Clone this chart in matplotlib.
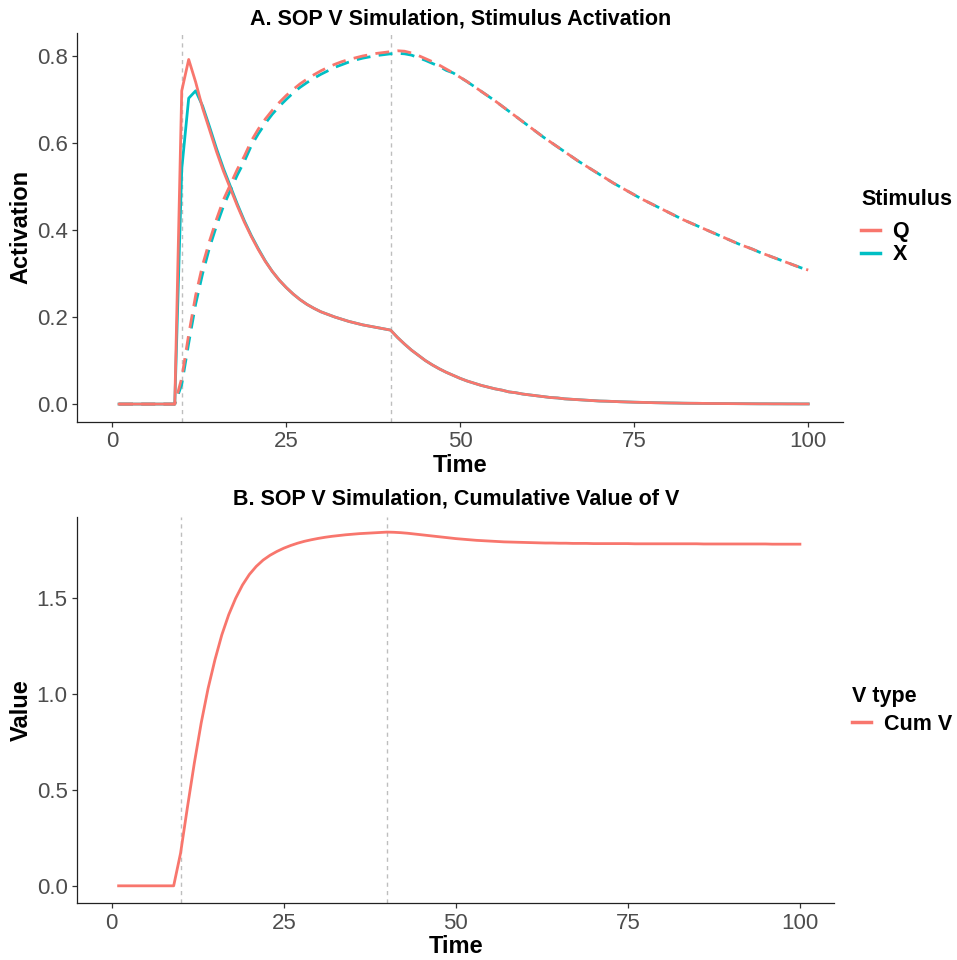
import matplotlib
matplotlib.use("Agg")
import matplotlib.pyplot as plt
from matplotlib.lines import Line2D

plt.rcParams["font.family"] = ["Liberation Sans", "DejaVu Sans"]

time = list(range(1, 101))

# A1 (solid) and A2 (dashed) activation per stimulus
q_a1 = [0] * 9 + [
    0.72, 0.792, 0.74, 0.68, 0.63, 0.58, 0.535, 0.495, 0.455, 0.418,
    0.385, 0.355, 0.328, 0.305, 0.285, 0.268, 0.253, 0.240, 0.229, 0.220,
    0.212, 0.206, 0.200, 0.195, 0.190, 0.186, 0.182, 0.179, 0.176, 0.173,
    0.170,
    0.153, 0.138, 0.124, 0.112, 0.100, 0.090, 0.081, 0.073, 0.066, 0.059,
    0.053, 0.048, 0.043, 0.039, 0.035, 0.032, 0.028, 0.026, 0.023, 0.021,
    0.019, 0.017, 0.015, 0.014, 0.012, 0.011, 0.010, 0.009, 0.008, 0.007,
    0.0066, 0.006, 0.0053, 0.0048, 0.0043, 0.0039, 0.0035, 0.0031, 0.0028, 0.0025,
    0.0023, 0.002, 0.0018, 0.0017, 0.0015, 0.0013, 0.0012, 0.0011, 0.001, 0.0009,
    0.0008, 0.0007, 0.0006, 0.0006, 0.0005, 0.0005, 0.0004, 0.0004, 0.0003, 0.0003,
]
x_a1 = [0] * 9 + [
    0.54, 0.703, 0.72, 0.685, 0.637, 0.587, 0.541, 0.50, 0.459, 0.421,
    0.387, 0.357, 0.329, 0.305, 0.285, 0.268, 0.253, 0.240, 0.229, 0.220,
    0.212, 0.206, 0.200, 0.195, 0.190, 0.186, 0.182, 0.179, 0.176, 0.173,
    0.170,
    0.153, 0.138, 0.124, 0.112, 0.100, 0.090, 0.081, 0.073, 0.066, 0.059,
    0.053, 0.048, 0.043, 0.039, 0.035, 0.032, 0.028, 0.026, 0.023, 0.021,
    0.019, 0.017, 0.015, 0.014, 0.012, 0.011, 0.010, 0.009, 0.008, 0.007,
    0.0066, 0.006, 0.0053, 0.0048, 0.0043, 0.0039, 0.0035, 0.0031, 0.0028, 0.0025,
    0.0023, 0.002, 0.0018, 0.0017, 0.0015, 0.0013, 0.0012, 0.0011, 0.001, 0.0009,
    0.0008, 0.0007, 0.0006, 0.0006, 0.0005, 0.0005, 0.0004, 0.0004, 0.0003, 0.0003,
]
q_a2 = [0] * 9 + [
    0.06, 0.16, 0.25, 0.32, 0.375, 0.425, 0.47, 0.505, 0.54, 0.57,
    0.605, 0.632, 0.655, 0.675, 0.693, 0.709, 0.723, 0.736, 0.747, 0.757,
    0.766, 0.774, 0.781, 0.787, 0.792, 0.796, 0.800, 0.803, 0.806, 0.808,
    0.810,
    0.812, 0.811, 0.807, 0.801, 0.794, 0.787, 0.779, 0.770, 0.761, 0.751,
    0.741, 0.730, 0.719, 0.708, 0.697, 0.685, 0.673, 0.661, 0.649, 0.637,
    0.625, 0.613, 0.602, 0.591, 0.580, 0.569, 0.558, 0.548, 0.538, 0.528,
    0.518, 0.508, 0.499, 0.490, 0.481, 0.472, 0.464, 0.456, 0.448, 0.440,
    0.432, 0.424, 0.417, 0.410, 0.403, 0.396, 0.389, 0.382, 0.375, 0.368,
    0.362, 0.356, 0.349, 0.343, 0.337, 0.331, 0.325, 0.319, 0.313, 0.308,
]
x_a2 = [0] * 9 + [
    0.045, 0.14, 0.23, 0.30, 0.36, 0.41, 0.455, 0.492, 0.527, 0.558,
    0.594, 0.621, 0.645, 0.666, 0.684, 0.700, 0.715, 0.728, 0.739, 0.749,
    0.758, 0.766, 0.774, 0.780, 0.786, 0.791, 0.795, 0.798, 0.801, 0.803,
    0.805,
    0.806, 0.805, 0.802, 0.796, 0.790, 0.783, 0.776, 0.767, 0.761, 0.751,
    0.741, 0.730, 0.719, 0.708, 0.697, 0.685, 0.673, 0.661, 0.649, 0.637,
    0.625, 0.613, 0.602, 0.591, 0.580, 0.569, 0.558, 0.548, 0.538, 0.528,
    0.518, 0.508, 0.499, 0.490, 0.481, 0.472, 0.464, 0.456, 0.448, 0.440,
    0.432, 0.424, 0.417, 0.410, 0.403, 0.396, 0.389, 0.382, 0.375, 0.368,
    0.362, 0.356, 0.349, 0.343, 0.337, 0.331, 0.325, 0.319, 0.313, 0.308,
]
cum_v = [0] * 9 + [
    0.17, 0.41, 0.64, 0.85, 1.03, 1.18, 1.31, 1.415, 1.50, 1.57,
    1.625, 1.667, 1.70, 1.725, 1.745, 1.762, 1.776, 1.788, 1.798, 1.806,
    1.813, 1.819, 1.824, 1.828, 1.832, 1.835, 1.838, 1.840, 1.842, 1.844,
    1.846,
    1.845, 1.843, 1.840, 1.836, 1.832, 1.828, 1.824, 1.820, 1.816, 1.812,
    1.809, 1.806, 1.803, 1.801, 1.799, 1.797, 1.795, 1.794, 1.793, 1.792,
    1.791, 1.790, 1.789, 1.789, 1.788, 1.788, 1.787, 1.787, 1.787, 1.786,
    1.786, 1.786, 1.786, 1.786, 1.786, 1.785, 1.785, 1.785, 1.785, 1.785,
    1.785, 1.785, 1.785, 1.785, 1.785, 1.784, 1.784, 1.784, 1.784, 1.784,
    1.784, 1.784, 1.784, 1.784, 1.784, 1.783, 1.783, 1.783, 1.783, 1.783,
]
stim_on, stim_off = 10, 40

red, cyan = "#F8766D", "#00BFC4"
tick_col = "#4D4D4D"


def style_axes(ax):
    for s in ["top", "right"]:
        ax.spines[s].set_visible(False)
    for s in ["left", "bottom"]:
        ax.spines[s].set_linewidth(0.9)
        ax.spines[s].set_color("#222222")
    ax.tick_params(labelsize=16, labelcolor=tick_col, color="#333333", length=3.5, width=0.9)
    ax.set_xlim(-5, 105)
    ax.set_xticks([0, 25, 50, 75, 100])
    for v in (stim_on, stim_off):
        ax.axvline(v, color="#BEBEBE", lw=1.0, linestyle=(0, (3, 3)), zorder=1)


def add_legend(ax, handles, labels, title, sep):
    leg = ax.legend(handles, labels, title=title, loc="center left",
                    bbox_to_anchor=(1.024, 0.5), frameon=False, borderpad=0, borderaxespad=0,
                    handlelength=0.85, handletextpad=0.6, labelspacing=0.1,
                    prop={"weight": "bold", "size": 15.5},
                    title_fontproperties={"weight": "bold", "size": 15.5}, alignment="left")
    leg._legend_box.sep = sep
    return leg


fig = plt.figure(figsize=(9.57, 9.6), dpi=100)
ax1 = fig.add_axes([0.0808, 0.5607, 0.8001, 0.405])
ax2 = fig.add_axes([0.0808, 0.059, 0.791, 0.4025])

# panel A
style_axes(ax1)
dash = (0, (5, 3))
ax1.plot(time, x_a1, color=cyan, lw=2.0, zorder=3)
ax1.plot(time, x_a2, color=cyan, lw=2.0, linestyle=dash, zorder=3)
ax1.plot(time, q_a1, color=red, lw=2.0, zorder=4)
ax1.plot(time, q_a2, color=red, lw=2.0, linestyle=dash, zorder=4)
ax1.set_ylim(-0.0406, 0.853)
ax1.set_yticks([0.0, 0.2, 0.4, 0.6, 0.8])
ax1.set_yticklabels(["0.0", "0.2", "0.4", "0.6", "0.8"])
ax1.set_title("A. SOP V Simulation, Stimulus Activation", fontsize=15.5, fontweight="bold", pad=6)
ax1.set_xlabel("Time", fontsize=17, fontweight="bold", labelpad=1)
ax1.set_ylabel("Activation", fontsize=17, fontweight="bold", labelpad=3)
add_legend(ax1, [Line2D([], [], color=red, lw=2.5), Line2D([], [], color=cyan, lw=2.5)],
           ["Q", "X"], "Stimulus", 8)

# panel B
style_axes(ax2)
ax2.plot(time, cum_v, color=red, lw=2.0, zorder=3)
ax2.set_ylim(-0.0915, 1.925)
ax2.set_yticks([0.0, 0.5, 1.0, 1.5])
ax2.set_yticklabels(["0.0", "0.5", "1.0", "1.5"])
ax2.set_title("B. SOP V Simulation, Cumulative Value of V", fontsize=15.5, fontweight="bold", pad=9)
ax2.set_xlabel("Time", fontsize=17, fontweight="bold", labelpad=1)
ax2.set_ylabel("Value", fontsize=17, fontweight="bold", labelpad=3)
add_legend(ax2, [Line2D([], [], color=red, lw=2.5)], ["Cum V"], "V type", 5)

fig.savefig("out.png", dpi=100)
